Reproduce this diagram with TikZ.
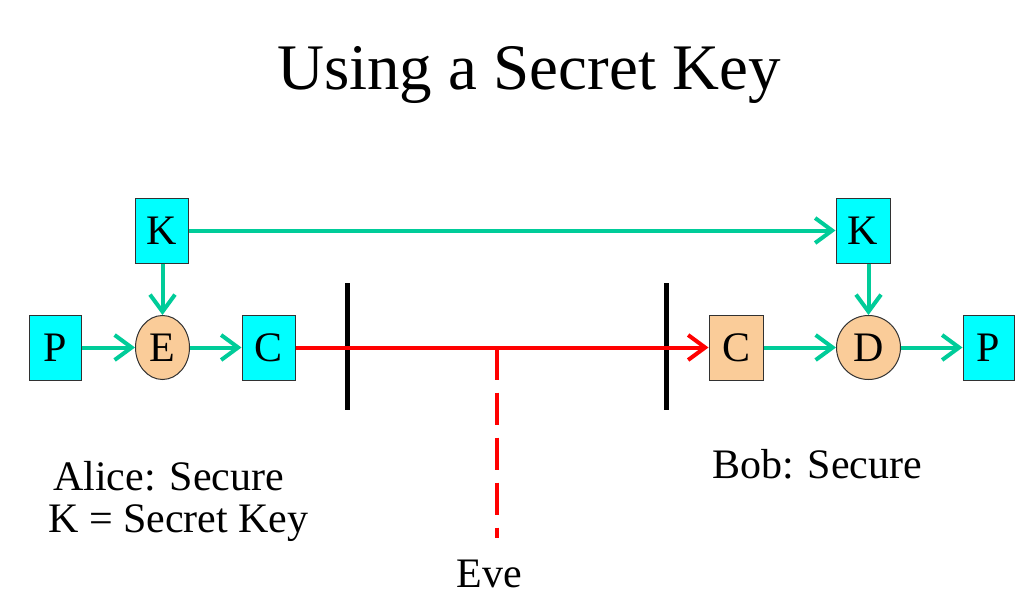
\documentclass[tikz,border=0pt]{standalone}
\usepackage{fontspec}
\setmainfont{Liberation Serif}
\usetikzlibrary{arrows.meta,shapes.geometric}
\definecolor{boxcyan}{RGB}{0,255,255}
\definecolor{peach}{RGB}{250,204,153}
\definecolor{arrgreen}{RGB}{0,204,153}
\definecolor{edgegray}{RGB}{50,50,50}
\tikzset{
  lbl/.style={font=\fontsize{42}{48}\selectfont, inner sep=0pt},
  cbox/.style={draw=edgegray, line width=1pt, fill=boxcyan, minimum width=53pt, minimum height=65pt, inner sep=0pt, font=\fontsize{42}{48}\selectfont},
  obox/.style={cbox, fill=peach},
  oval/.style={ellipse, draw=edgegray, line width=1pt, fill=peach, minimum width=54pt, minimum height=64pt, inner sep=0pt, font=\fontsize{42}{48}\selectfont},
  flow/.style={draw=arrgreen, line width=4pt, -{Straight Barb[length=17pt,width=25pt,line width=4pt]}},
  redflow/.style={draw=red, line width=4pt, -{Straight Barb[length=17pt,width=25pt,line width=4pt]}},
  bar/.style={draw=black, line width=5pt},
  eveline/.style={draw=red, line width=4pt, dash pattern=on 32pt off 13pt},
}
\begin{document}
\begin{tikzpicture}[x=1pt,y=-1pt]
\useasboundingbox[fill=white] (0,0) rectangle (1036,615);
\node[font=\fontsize{65}{72}\selectfont, inner sep=0pt, anchor=base] (title) at (529,90) {Using a Secret Key};
% nodes
\node[cbox] (KL) at (162,230.5) {K};
\node[cbox, minimum width=52pt] (PL) at (55,347.5) {P};
\node[oval] (E) at (162.5,347.5) {E};
\node[cbox] (CL) at (268.5,347.5) {C};
\node[obox, minimum width=54pt] (CR) at (736,347.5) {C};
\node[oval, minimum width=64pt] (D) at (868.5,347.5) {D};
\node[cbox, minimum width=51pt] (PR) at (988.5,347.5) {P};
\node[cbox, minimum width=54pt] (KR) at (863,230.5) {K};
% bars
\coordinate (BLt) at (347,283); \coordinate (BLb) at (347,410);
\coordinate (BRt) at (666,283); \coordinate (BRb) at (666,410);
\draw[bar] (BLt) -- (BLb);
\draw[bar] (BRt) -- (BRb);
% Eve line
\coordinate (EveTop) at (497,347.5);
\coordinate (EveEnd) at (497,538);
\draw[eveline] (EveTop) -- (EveEnd);
% connectors
\draw[flow] (KL.east) -- (KR.west);
\draw[flow] (E.north |- KL.south) -- (E.north);
\draw[flow] (PL.east) -- (E.west);
\draw[flow] (E.east) -- (CL.west);
\draw[redflow] (CL.east) -- (CR.west);
\draw[flow] (CR.east) -- (D.west);
\draw[flow] (D.north |- KR.south) -- (D.north);
\draw[flow] (D.east) -- (PR.west);
% labels
\node[lbl, anchor=base west] (alice) at (53,490) {Alice: Secure};
\node[lbl, anchor=base west] (keydef) at (48,532) {K = Secret Key};
\node[lbl, anchor=base west] (bob) at (712,478) {Bob: Secure};
\node[lbl, anchor=base] (eve) at (489.5,587) {Eve};
\end{tikzpicture}
\end{document}
